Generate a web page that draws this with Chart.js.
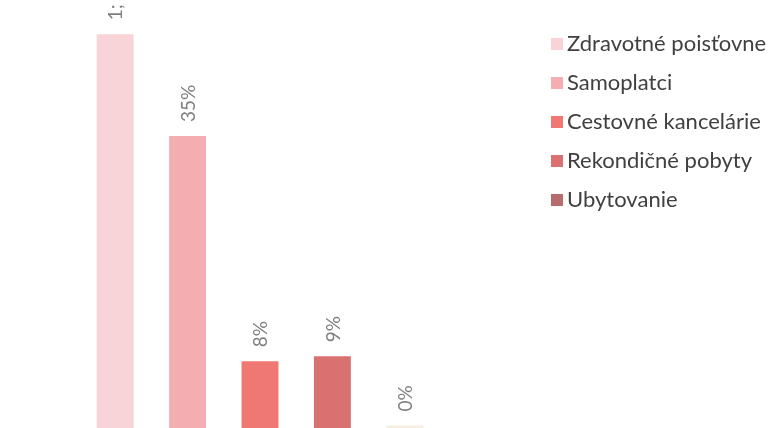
<!DOCTYPE html>
<html>
<head>
<meta charset="utf-8">
<script src="https://cdn.jsdelivr.net/npm/chart.js@4.4.0/dist/chart.umd.min.js"></script>
<style>
  html, body { margin: 0; padding: 0; background: #fff; }
  #wrap { width: 774px; height: 428px; }
</style>
</head>
<body>
<div id="wrap"><canvas id="graf" width="774" height="428"></canvas></div>
<script>
// kategorie a hodnoty (v %)
var kategorie = ['Zdravotné poisťovne', 'Samoplatci', 'Cestovné kancelárie', 'Rekondičné pobyty', 'Ubytovanie'];
var hodnoty = [47.2, 35, 8, 8.6, 0.3];
var popisky = ['1;', '35%', '8%', '9%', '0%'];
var farby = ['#f8d3d8', '#f4adb1', '#ef7872', '#d97171', '#f6eede'];
var farbyLegenda = ['#f8d3d8', '#f4adb1', '#ef7872', '#dc6f6f', '#b86a6d'];

// popisky nad stlpcami, otocene o 90 stupnov
var popiskyPlugin = {
  id: 'popisky',
  afterDatasetsDraw: function(chart) {
    var ctx = chart.ctx;
    var meta = chart.getDatasetMeta(0);
    ctx.save();
    ctx.fillStyle = '#7f7f7f';
    ctx.font = '19px Lato';
    ctx.textAlign = 'left';
    ctx.textBaseline = 'middle';
    meta.data.forEach(function(bar, i) {
      ctx.save();
      ctx.translate(bar.x + 1, bar.y - 14);
      ctx.rotate(-Math.PI / 2);
      ctx.fillText(popisky[i], 0, 0);
      ctx.restore();
    });
    ctx.restore();
  }
};

// legenda vpravo
var legendaPlugin = {
  id: 'legenda',
  afterDraw: function(chart) {
    var ctx = chart.ctx;
    ctx.save();
    ctx.font = '22px Lato';
    ctx.textBaseline = 'middle';
    ctx.textAlign = 'left';
    for (var i = 0; i < kategorie.length; i++) {
      var y = 44 + i * 39;
      ctx.fillStyle = farbyLegenda[i];
      ctx.fillRect(551, y - 6, 12, 12);
      ctx.fillStyle = '#404040';
      ctx.fillText(kategorie[i], 567, y);
    }
    ctx.restore();
  }
};

var ctx = document.getElementById('graf').getContext('2d');
var graf = new Chart(ctx, {
  type: 'bar',
  data: {
    labels: kategorie,
    datasets: [{
      data: hodnoty,
      backgroundColor: farby,
      borderWidth: 0,
      categoryPercentage: 1,
      barPercentage: 0.51
    }]
  },
  options: {
    responsive: false,
    animation: false,
    layout: { padding: { left: 79, right: 333, top: 11, bottom: 0 } },
    plugins: { legend: { display: false }, tooltip: { enabled: false } },
    scales: {
      x: { display: false },
      y: { display: false, min: 0, max: 50 }
    }
  },
  plugins: [popiskyPlugin, legendaPlugin]
});
</script>
</body>
</html>
